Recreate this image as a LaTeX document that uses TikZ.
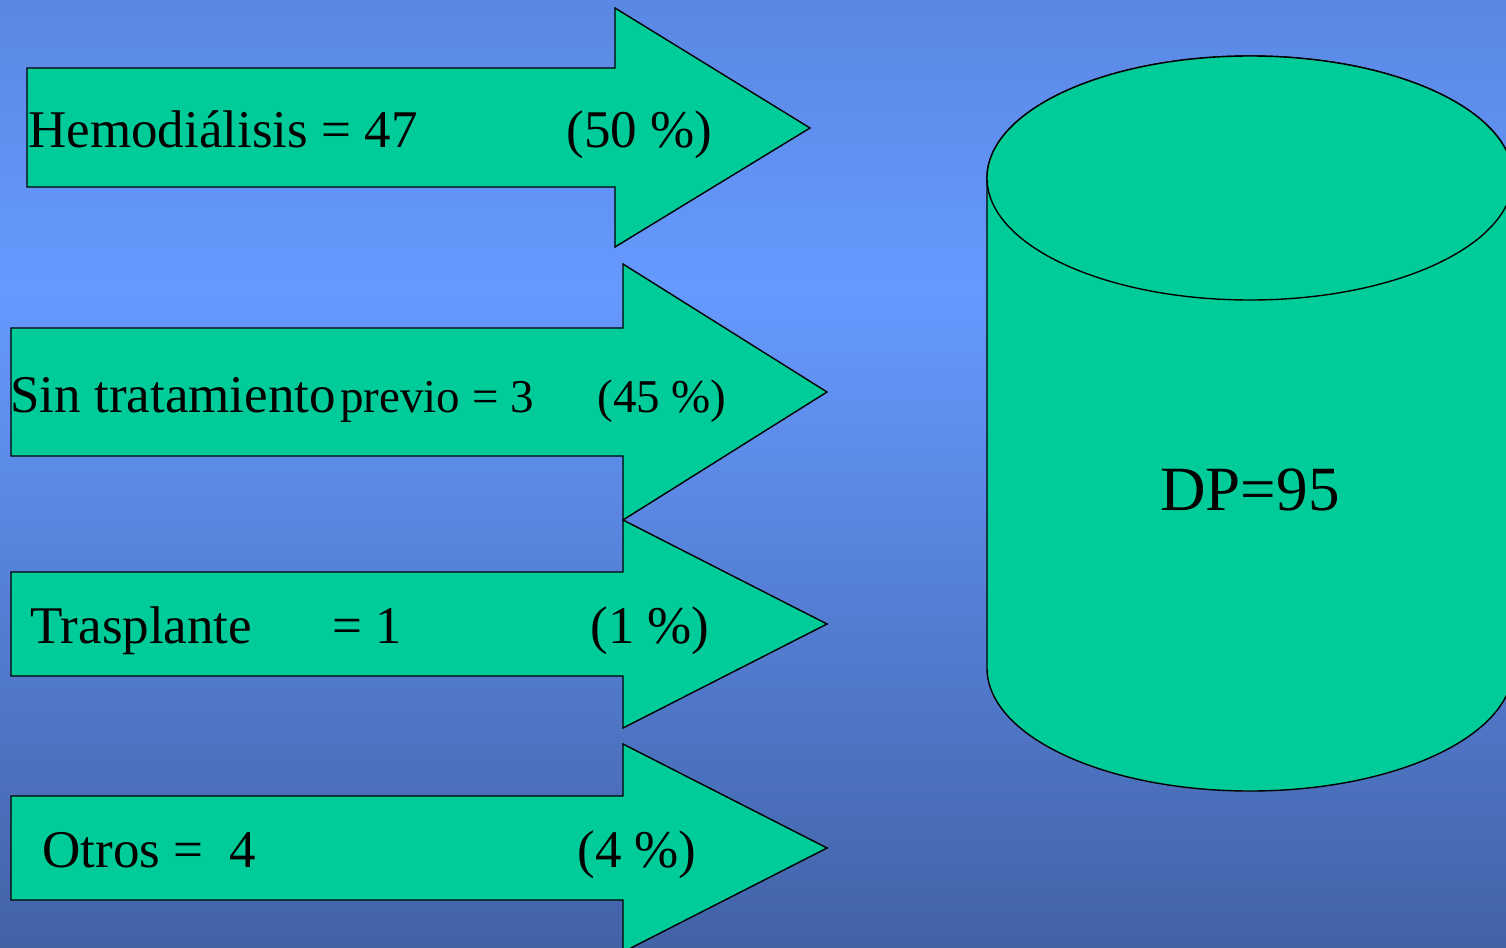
\documentclass[tikz,border=0pt]{standalone}
\usepackage{fontspec}
\setmainfont{Liberation Serif}
\usepackage{tikz}
\usetikzlibrary{positioning}
\definecolor{dpgreen}{RGB}{0,204,153}
\definecolor{bgtop}{RGB}{90,135,226}
\definecolor{bgmid}{RGB}{102,153,255}
\definecolor{bgbot}{RGB}{66,98,166}
\tikzset{
  flecha/.style={draw=black, fill=dpgreen, line width=0.7pt, line join=miter},
  rotulo/.style={inner sep=0pt, anchor=base west, font=\fontsize{26.5}{30}\selectfont},
  rotulochico/.style={rotulo, font=\fontsize{23.5}{27}\selectfont}
}
\begin{document}
\begin{tikzpicture}[x=0.5pt, y=-0.5pt]
    \clip (0,0) rectangle (1506,948);
    \shade[top color=bgtop, bottom color=bgmid] (0,0) rectangle (1506,290);
    \shade[top color=bgmid, bottom color=bgbot] (0,290) rectangle (1506,948);

    \filldraw[flecha] (987,178) -- (987,668) arc[start angle=180, end angle=360, x radius=131.5pt, y radius=61.5pt] -- (1513,178) arc[start angle=0, end angle=180, x radius=131.5pt, y radius=61pt] -- cycle;
    \draw[flecha] (1250,178) ellipse[x radius=131.5pt, y radius=61pt];
    \node[inner sep=0pt, anchor=base, font=\fontsize{31.5}{36}\selectfont] (dp) at (1250,510) {DP=95};

    \draw[flecha] (27,68) -- (615,68) -- (615,8) -- (810,128) -- (615,247) -- (615,187) -- (27,187) -- cycle;
    \draw[flecha] (11,328) -- (623,328) -- (623,264) -- (827,392) -- (623,520) -- (623,456) -- (11,456) -- cycle;
    \draw[flecha] (11,572) -- (623,572) -- (623,520) -- (827,624) -- (623,728) -- (623,676) -- (11,676) -- cycle;
    \draw[flecha] (11,796) -- (623,796) -- (623,744) -- (827,848) -- (623,952) -- (623,900) -- (11,900) -- cycle;

    \node[rotulo] (hemo) at (28,147) {Hemodiálisis = 47};
    \node[rotulo] (hemopct) at (566,147) {(50 \%)};

    \node[rotulo] (sin) at (10,412) {Sin tratamiento};
    \node[rotulochico] (previo) at (340,412) {previo = 3};
    \node[rotulochico] (sinpct) at (597,412) {(45 \%)};

    \node[rotulo] (tras) at (30,643) {Trasplante};
    \node[rotulo] (trasnum) at (332,643) {= 1};
    \node[rotulo] (traspct) at (590,643) {(1 \%)};

    \node[rotulo] (otros) at (42,867) {Otros =\ \ 4};
    \node[rotulo] (otrospct) at (577,867) {(4 \%)};
\end{tikzpicture}
\end{document}
